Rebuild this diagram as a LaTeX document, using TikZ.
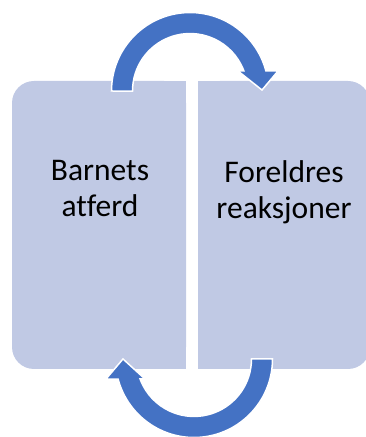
\documentclass[tikz,border=0pt]{standalone}
\usepackage{fontspec}
\setmainfont[Ligatures=NoCommon]{Carlito}
\usetikzlibrary{positioning}
\definecolor{boxfill}{RGB}{192,201,228}
\definecolor{arrowblue}{RGB}{68,114,196}

\begin{document}
\begin{tikzpicture}[x=1pt,y=1pt,
  box/.style={fill=boxfill, rounded corners=22pt, inner sep=0pt},
  boxtext/.style={font=\fontsize{31.5}{36}\selectfont, align=center, text=black},
  cyclearrow/.style={fill=arrowblue, draw=white, line width=1.5pt, line join=miter}]
  \useasboundingbox (0,0) rectangle (366,437);
  \clip (0,0) rectangle (366,437);
  % two halves of the cycle
  \node[box, minimum width=174, minimum height=288] (barn) at (99,212) {};
  \fill[boxfill] (barn.north) rectangle (barn.south east);   % square inner side
  \node[box, minimum width=172, minimum height=288] (foreldre) at (284,212) {};
  \fill[boxfill] (foreldre.south west) rectangle (foreldre.north); % square inner side
  \node[boxtext] (barntxt) at ([xshift=1,yshift=36]barn.center) {Barnets\\atferd};
  \node[boxtext] (foreldretxt) at ([yshift=33]foreldre.center) {Foreldres\\reaksjoner};
  % top arrow: child -> parents
  \filldraw[cyclearrow] (111.5,346) arc[start angle=180, end angle=14.8, radius=78.5]
    -- (278,366) -- (262,347) -- (238,366) -- (243.9,366)
    arc[start angle=20.4, end angle=180, radius=57.5] -- cycle;
  % bottom arrow: parents -> child
  \filldraw[cyclearrow] (272.5,78) arc[start angle=0, end angle=-165.2, radius=78.5]
    -- (106,58) -- (123,78) -- (145,58) -- (140.1,58)
    arc[start angle=-159.6, end angle=0, radius=57.5] -- cycle;
\end{tikzpicture}
\end{document}
